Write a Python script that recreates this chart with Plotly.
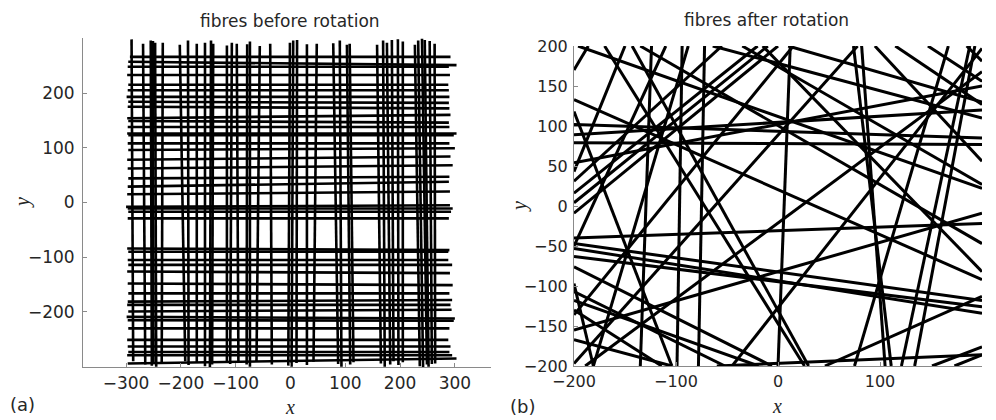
import plotly.graph_objects as go

# ---------------- panel (a): fibres before rotation ----------------
# near-vertical fibres: x at top / bottom end, y of top / bottom end
va_x_top = [-290, -269, -255, -251, -247, -233, -202, -187, -171, -156,
            -145, -141, -116, -107, -98, -79, -74, -56, -37, -1,
            5, 12, 30, 48, 78, 90, 103, 108, 158, 169,
            176, 185, 196, 205, 227, 233, 240, 245, 254, 263]
va_x_bot = [-287, -265, -253, -250, -245, -235, -192, -186, -171, -156,
            -147, -143, -116, -110, -95, -80, -74, -62, -34, -4,
            2, 11, 30, 42, 87, 93, 109, 115, 165, 172,
            182, 188, 197, 205, 236, 242, 249, 252, 258, 264]
va_y_top = [298, 290, 296, 295, 292, 292, 288, 296, 290, 292,
            296, 290, 287, 292, 290, 289, 294, 286, 290, 292,
            296, 297, 289, 290, 291, 296, 288, 290, 288, 296,
            292, 297, 298, 294, 288, 296, 299, 297, 295, 290]
va_y_bot = [-290, -296, -298, -293, -300, -295, -290, -297, -293, -299,
            -301, -296, -290, -295, -292, -296, -300, -290, -296, -298,
            -300, -293, -297, -291, -295, -300, -296, -292, -294, -300,
            -296, -290, -297, -292, -299, -301, -296, -300, -295, -294]

# near-horizontal fibres: y at left / right end, x of left / right end
ha_y_left = [266, 257, 248, 233, 215, 205, 193, 184, 175, 154,
             149, 138, 126, 123, 108, 96, 78, 62, 44, 29,
             15, -8, -11, -17, -29, -84, -90, -105, -114, -126,
             -148, -166, -181, -187, -199, -209, -215, -230, -251, -263,
             -273, -279, -294]
ha_y_right = [266, 251, 248, 233, 215, 205, 193, 182, 172, 160,
              146, 138, 126, 123, 108, 99, 84, 68, 47, 38,
              20, -5, -11, -17, -29, -87, -90, -105, -114, -129,
              -151, -166, -178, -187, -196, -212, -216, -230, -251, -263,
              -273, -279, -285]
ha_x_left = [-293, -296, -297, -298, -296, -297, -299, -296, -297, -298,
             -296, -297, -298, -296, -297, -296, -298, -297, -296, -297,
             -298, -300, -297, -296, -297, -298, -296, -297, -296, -298,
             -297, -296, -297, -298, -296, -299, -297, -296, -298, -297,
             -296, -298, -297]
ha_x_right = [292, 303, 289, 291, 288, 289, 290, 289, 290, 292,
              289, 290, 303, 298, 290, 300, 292, 296, 290, 289,
              291, 291, 296, 293, 289, 290, 288, 288, 295, 291,
              296, 290, 295, 292, 294, 300, 298, 290, 288, 292,
              290, 295, 303]

# ---------------- panel (b): fibres after rotation ----------------
b_x0 = [-200, -72, -94, -124, -88, 74, 82, -200, -200, -200,
        -200, -200, -200, -200, -200, -200, -200, -200, -200, -200,
        -200, -200, -200, -200, -200, -200, -200, -200, -200, -170,
        -143, -135, -64, -35, -15, 12, 78, 95, 115, 147,
        167, 185, 188, 193, 46, 151, 173, -196, -60, -200, -200,
        10, 200, 200]
b_y0 = [170, 200, 200, 200, 200, 200, 200, 102, 79, -40,
        -53, -63, -47, -97, -9, 16, 31, 4, 54, 43,
        89, 133, -76, -107, -118, -130, -136, -155, -167, 200,
        200, 200, 200, 200, 200, 200, 200, 200, 200, 200,
        200, 200, 200, 200, -200, -200, -200, 200, -200, 118, -50,
        200, 168, 197]
b_x1 = [-186, -78, -99, -135, -181, 111, 105, 200, 200, 200,
        200, 200, 200, -181, 0, -20, -55, -10, 200, -150,
        200, 200, -6, -52, -19, -114, 15, 200, -104, 26,
        30, 200, 200, 200, 200, 0, -200, 200, 200, 200,
        75, 200, 121, 134, 200, 200, 200, 200, 200, -104, -110,
        200, -189, -45]
b_y1 = [200, -200, -200, -200, -200, -200, -200, 85, 77, -22,
        -134, -126, -118, -200, 200, 200, 200, 200, 150, 200,
        120, -92, -200, -200, -200, -200, 200, -9, -200, -200,
        -200, -47, 110, 27, -82, -200, -197, 56, 127, 156,
        -200, 181, -200, -200, -113, -176, -186, 22, -186, -200, 200,
        130, -200, -200]


def segments(x0, y0, x1, y1):
    xs, ys = [], []
    for a, b, c, d in zip(x0, y0, x1, y1):
        xs += [a, c, None]
        ys += [b, d, None]
    return xs, ys


fig = go.Figure()

vx, vy = segments(va_x_bot, va_y_bot, va_x_top, va_y_top)
hx, hy = segments(ha_x_left, ha_y_left, ha_x_right, ha_y_right)
fig.add_trace(go.Scatter(x=vx + hx, y=vy + hy, mode="lines",
                         line=dict(color="black", width=2.6),
                         xaxis="x", yaxis="y", hoverinfo="skip",
                         showlegend=False))
bx, by = segments(b_x0, b_y0, b_x1, b_y1)
fig.add_trace(go.Scatter(x=bx, y=by, mode="lines",
                         line=dict(color="black", width=3),
                         xaxis="x2", yaxis="y2", hoverinfo="skip",
                         showlegend=False))

W, H = 996, 420
AX = "#8a8a8a"
TXT = "#262626"


def px(x):
    return x / W


def py(y):
    return 1 - y / H


common = dict(showline=True, linecolor=AX, linewidth=1, ticks="inside",
              ticklen=4, tickcolor=AX, showgrid=False, zeroline=False,
              mirror=False, automargin=False, fixedrange=True)

fig.update_layout(
    width=W, height=H, margin=dict(l=0, r=0, t=0, b=0, pad=0),
    paper_bgcolor="white", plot_bgcolor="white",
    xaxis=dict(domain=[px(83), px(491)], range=[-378.6, 365.9],
               tickvals=[-300, -200, -100, 0, 100, 200, 300],
               tickfont=dict(family="DejaVu Sans", size=17, color=TXT),
               anchor="y", ticklabelstandoff=1, **common),
    yaxis=dict(domain=[py(367), py(38)], range=[-300.5, 300.5],
               tickvals=[-200, -100, 0, 100, 200],
               tickfont=dict(family="DejaVu Sans", size=17, color=TXT),
               anchor="x", ticklabelstandoff=4, **common),
    xaxis2=dict(domain=[px(574), px(982)], range=[-200, 200],
                tickvals=[-200, -100, 0, 100, 200],
                tickfont=dict(family="DejaVu Sans", size=16, color=TXT),
                anchor="y2", ticklabelstandoff=1, **common),
    yaxis2=dict(domain=[py(366), py(46)], range=[-200, 200],
                tickvals=[-200, -150, -100, -50, 0, 50, 100, 150, 200],
                tickfont=dict(family="DejaVu Sans", size=16, color=TXT),
                anchor="x2", ticklabelstandoff=2, **common),
)

ann = []
for text, x, y, size in [("fibres before rotation", 290, 21, 17),
                         ("fibres after rotation", 766, 20, 17)]:
    ann.append(dict(text=text, x=px(x), y=py(y), xref="paper", yref="paper",
                    showarrow=False, xanchor="center", yanchor="middle",
                    font=dict(family="DejaVu Sans", size=size, color=TXT)))
for text, x, y in [("(a)", 22, 404), ("(b)", 522, 406)]:
    ann.append(dict(text=text, x=px(x), y=py(y), xref="paper", yref="paper",
                    showarrow=False, xanchor="center", yanchor="middle",
                    font=dict(family="DejaVu Sans", size=18, color=TXT)))
for text, x, y, ang in [("x", 290, 407, 0), ("x", 777, 406, 0),
                        ("y", 22, 203, -90), ("y", 519, 207, -90)]:
    ann.append(dict(text="<i>%s</i>" % text, x=px(x), y=py(y), xref="paper",
                    yref="paper", showarrow=False, xanchor="center",
                    yanchor="middle", textangle=ang, borderpad=0,
                    font=dict(family="Liberation Serif", size=20, color=TXT)))
fig.update_layout(annotations=ann)

fig.write_html("out.html", config={"displayModeBar": False},
               post_script="document.body.style.margin='0';")
